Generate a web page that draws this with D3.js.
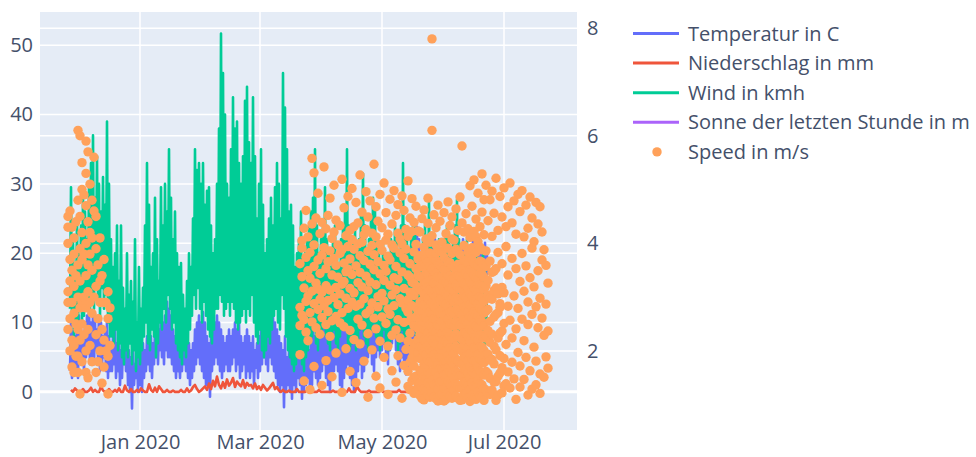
<!DOCTYPE html>
<html>
<head>
<meta charset="utf-8">
<script src="https://cdn.jsdelivr.net/npm/d3@7"></script>
<style>
  html, body { margin: 0; padding: 0; background: #ffffff; }
  svg { display: block; font-family: "Open Sans", Verdana, Arial, sans-serif; }
</style>
</head>
<body>
<svg id="chart" width="976" height="457"></svg>
<script>
// ---- Weather station readings, one entry per day starting 2019-11-27 ----
const firstDay = new Date(2019, 10, 27);

// Temperature in C: daily minimum and maximum
const tempMin = [
  3, 2, 4, 3, 2, 5, 4, 3, 5, 6, 4,
  5, 4, 6, 5, 3, 4, 5, 3, 2, 3,
  3, 4, 2, 3, 1, 2, 4, 3, 1, 0, -2.4, 1, 2, 0,
  1, 0, 2, 3, 4, 3, 2, 4, 5, 4, 6, 5, 4, 6, 5,
  5, 4, 3, 2, 3, 2, 3, 4, 3, 2, 1, 2, 3, 4, 5,
  4, 3, 2, 1, 1, -0.7, 3, 4, 5, 4, 3, 2, 3, 4, 3,
  3, 4, 5, 3, 4, 2, 3, 4, 2, 3, 2, 3, 1, 3.5, 2,
  3, 4, 5, 4, 3, 5, 4, 3, 2, 1, 0, 1, -2.2, 0, 1,
  0, -1, 1, 0, 2, 1, -1, 0, 1, 2, 0, 1, 3, 2, 1,
  2, 3, 4, 2, 1, 0, 2, 3, 4, 3, 1, 0, 2, 3, 4, 2,
  1, 0, 2, 3, 4, 2, 3, 4, 5, 6, 4, 3, 5, 6, 5,
  6, 7, 5, 4, 6, 7, 8, 6, 4, 3, 5, 4, 2.5, 3, 5,
  6, 7, 8, 9, 10, 8, 7, 9, 10, 11, 9, 8, 10, 11, 9,
  10, 11, 12, 10, 11, 12, 13, 11, 10, 12, 13, 11, 12, 13, 11, 12, 13, 14, 12, 11, 13, 12, 12
];
const tempMax = [
  10, 9, 8, 10, 11, 9, 8, 10, 11, 12, 10,
  11, 10, 9, 11, 10, 8, 9, 10, 8, 7,
  8, 9, 7, 8, 6, 7, 9, 8, 6, 5, 6, 4, 7, 5,
  6, 7, 6, 8, 9, 8, 7, 9, 10, 9, 11, 10, 11, 13, 12,
  11, 9, 8, 7, 6, 7, 8, 9, 8, 7, 6, 7, 9, 10, 11,
  10, 11.5, 10, 8, 7, 8, 9, 10, 11, 10, 9, 8, 7, 8, 9,
  8, 9, 10, 9, 10, 8, 7, 8, 9, 8, 7, 8, 6, 7, 8,
  9, 11, 12, 10, 11, 12.8, 11, 10, 9, 8, 7, 6, 8, 5, 6,
  7, 8, 6, 9, 8, 10, 9, 8, 7, 6, 9, 10, 8, 7, 9,
  11, 12, 13, 11, 10, 9, 12, 14, 13, 12, 11, 10, 12, 13, 15, 14,
  13, 12, 14, 15, 16, 14, 13, 15, 16, 17, 15, 14, 16, 18, 17,
  18, 19, 17, 16, 18, 19, 20, 18, 17, 19, 20, 18, 17, 19, 20,
  21, 22, 23.8, 22, 20, 19, 21, 22, 20, 19, 21, 22, 20, 18, 19,
  20, 21, 22, 20, 19, 21, 22, 23, 21, 20, 22, 21, 20, 19, 21, 22, 20, 19, 21, 20, 19, 21.5, 20
];

// Precipitation in mm: daily value
const rain = [
  0.3, 0, 0.5, 0.2, 0, 0, 0.4, 0, 0, 0.2, 0.6, 0, 0.3, 0, 0, 0.8, 0.2, 0, 0, 0.4, 0, 0, 0.3, 0, 0.5, 0, 0, 0.9, 0.2, 0, 0.4, 0, 0, 0.3, 0,
  0.5, 0.2, 0, 0, 1.1, 0.3, 0, 0.6, 0, 0.8, 0.4, 0, 0, 0.3, 0, 0, 0.2, 0, 0, 0, 0.3, 0, 0, 0.5, 0, 0.2, 0.7, 1.0, 0.4, 0, 0.2, 0.5, 0.8, 0.3, 1.2,
  0.4, 1.6, 0.8, 2.2, 1.0, 0.5, 1.4, 0.6, 1.8, 0.9, 1.3, 2.0, 0.7, 1.5, 1.1, 0.8, 1.7, 0.6, 1.3, 0.9, 1.0, 0.5, 1.2, 0.4, 0.8, 0.3, 1.0, 0.6, 0.2, 0.5, 0.9, 1.3, 0.4, 0.7, 0.2,
  0, 0.3, 0, 0, 0.2, 0, 0, 0, 0.4, 0, 0, 0, 0, 0.2, 0, 0, 0, 0, 0, 0.3, 0, 0, 0, 0, 0, 0, 0.2, 0, 0, 0, 0, 0, 0, 0, 0.5,
  0, 0, 0, 0.8, 0.3, 0, 0, 0, 0, 0.2, 0, 0, 0, 0, 0, 0.4, 0, 0, 0, 0, 0, 0, 0, 0, 0.3, 0, 0, 0, 0, 0, 0, 0.6, 0, 0, 0,
  0, 0, 0, 0, 0, 0, 0.2, 0, 0, 0, 0, 0, 0, 0, 0, 0, 0, 0, 0, 0.9, 0.3, 0, 0, 0, 0, 0, 0, 0, 0, 0, 0, 0, 0, 0
];

// Wind in km/h: daily minimum and maximum
const windMin = [
  12, 10, 8, 10, 9, 12, 10, 11, 14, 13,
  12, 14, 12, 16, 13, 11, 15, 12, 14, 10,
  8, 8, 7, 9, 6, 7, 5, 4, 6, 5,
  7, 4, 6, 3, 5, 4, 6, 8, 10, 7,
  6, 9, 8, 5, 7, 10, 9, 12, 10, 14,
  12, 9, 10, 7, 6, 5, 4, 6, 5, 7,
  9, 11, 14, 12, 15, 12, 10, 13, 11, 9,
  8, 7, 9, 12, 12, 14, 13, 11, 12, 13,
  11, 13, 12, 10, 9, 10, 11, 12, 10, 12,
  11, 14, 10, 8, 7, 9, 6, 5, 6, 8,
  7, 9, 11, 12, 10, 9, 14, 12, 8, 6,
  5, 4, 3, 4, 6, 5, 4, 3, 5, 6,
  7, 8, 9, 7, 6, 8, 9, 10, 8, 7,
  6, 8, 9, 7, 6, 8, 9, 10, 9, 7,
  6, 7, 8, 6, 7, 9, 10, 8, 7, 6,
  8, 9, 10, 8, 7, 6, 8, 9, 7, 6,
  7, 8, 9, 8, 6, 7, 9, 8, 7, 6,
  8, 9, 10, 8, 7, 6, 8, 9, 7, 8,
  9, 8, 7, 6, 8, 9, 7, 6, 8, 9,
  7, 6, 8, 9, 7, 6, 8, 7, 6, 8,
  7, 6, 8, 7, 6, 7, 8, 6, 7
];
const windMax = [
  29.5, 22, 18, 25, 20, 24, 28, 26, 22, 30,
  33, 37, 28, 34, 30, 26, 31, 27, 39, 30,
  22, 18, 20, 24, 16, 24, 15, 12, 20, 14,
  16, 13, 22, 10, 18, 12, 15, 24, 33, 27,
  18, 20, 28, 22, 16, 29.5, 24, 30, 26, 35,
  28, 22, 26, 20, 18, 18.6, 14, 12, 16, 20,
  18, 25, 35, 32, 33, 30, 33, 27, 29, 29.5,
  24, 20, 22, 30, 38, 51.7, 46, 40, 30, 28,
  35, 42.5, 38, 39, 33, 30, 34, 42, 44, 36,
  33, 42.5, 34, 25, 30, 35, 27, 20, 22, 25,
  28, 24, 29.5, 33, 30, 25, 46, 41, 35, 26,
  27, 24, 18, 20, 22, 26, 18, 20, 22, 24,
  26, 28, 35, 24, 20, 22, 24, 29.5, 22, 20,
  18, 22, 24, 20, 18, 22, 24, 26, 35, 24,
  20, 22, 24, 20, 22, 26, 31.5, 24, 20, 22,
  25, 28, 26, 22, 20, 18, 22, 20, 18, 20,
  22, 20, 24, 22, 20, 24, 33, 24, 22, 20,
  22, 24, 23.8, 20, 18, 20, 22, 24, 22, 27.7,
  22, 20, 18, 20, 22, 20, 18, 22, 24, 22,
  20, 22, 24, 27.7, 22, 20, 18, 20, 22, 20,
  18, 16, 18, 20, 16, 18, 20, 18, 16
];

// Sunshine of the last hour in min: no readings in this period
const sunMinutes = [];

// Speed in m/s: [days after 2020-01-01, readings of that day]
const speedRef = new Date(2020, 0, 1);
const speedByDay = [
  [-36, [4.5, 4.3, 4.0, 3.1, 2.9, 2.4]],
  [-35, [4.6, 3.7, 3.3, 2.6, 2.0]],
  [-34, [4.3, 3.5, 2.9, 2.2, 1.7]],
  [-33, [4.1, 3.8, 3.2, 2.7, 2.1, 1.6]],
  [-32, [4.4, 3.4, 2.5, 1.9]],
  [-31, [6.1, 4.8, 3.6, 3.0, 2.4, 1.9, 1.6]],
  [-30, [6.0, 4.5, 3.9, 3.3, 2.8, 2.2, 1.2]],
  [-29, [5.5, 5.0, 4.2, 3.7, 2.9, 2.5, 1.8]],
  [-28, [4.9, 3.8, 3.0, 2.3]],
  [-27, [5.9, 5.3, 4.7, 4.0, 3.4, 2.8, 2.0, 1.6]],
  [-26, [5.7, 4.4, 3.6, 3.1, 2.4, 1.5]],
  [-25, [5.1, 4.2, 3.8, 2.9, 2.1]],
  [-24, [4.8, 4.1, 3.5, 2.7, 1.8]],
  [-23, [5.6, 4.6, 3.0]],
  [-22, [4.5, 3.9, 3.2, 2.3, 1.6]],
  [-21, [3.6, 2.6, 1.8]],
  [-20, [4.1, 3.3, 2.9, 2.0]],
  [-19, [3.4, 2.4, 1.4]],
  [-18, [3.7, 2.9, 2.2, 1.7]],
  [-17, [2.9, 2.0]],
  [-16, [3.1, 2.6, 1.9, 1.2]],
  [-15, [2.8, 2.1]],
  [80, [3.62, 2.81, 2.47, 1.93]],
  [81, [4.05, 3.38, 2.66, 3.91]],
  [82, [3.17, 2.58, 1.44, 4.28]],
  [83, [4.61, 3.74, 2.92, 2.35]],
  [84, [3.49, 3.02, 2.19, 4.12]],
  [85, [3.83, 2.71, 1.28, 3.35]],
  [86, [5.58, 4.36, 3.11, 2.54]],
  [87, [5.31, 3.57, 2.88, 1.71, 3.97]],
  [88, [4.47, 3.26, 2.43]],
  [89, [4.93, 3.69, 2.77, 3.15]],
  [90, [4.18, 3.44, 2.31, 2.96]],
  [91, [3.78, 3.09, 2.62, 1.36, 4.39]],
  [92, [5.42, 3.92, 2.84]],
  [93, [4.27, 3.53, 2.49, 1.82, 3.21]],
  [94, [3.66, 2.94, 4.52, 2.73]],
  [95, [4.84, 3.86, 3.13, 2.27]],
  [96, [3.41, 2.56, 1.52, 4.09]],
  [97, [5.08, 4.21, 3.72, 2.99]],
  [98, [3.59, 3.18, 2.64, 1.96, 4.43]],
  [99, [3.97, 3.37, 2.86]],
  [100, [4.33, 3.81, 2.52, 3.06]],
  [101, [5.19, 3.24, 2.71, 1.23, 3.88]],
  [102, [4.66, 3.63, 3.29, 2.45]],
  [103, [4.14, 3.47, 2.98, 2.04]],
  [104, [4.87, 3.94, 3.52, 2.79]],
  [105, [3.71, 3.16, 2.38, 1.62, 4.24]],
  [106, [5.02, 4.07, 3.42, 2.91]],
  [107, [3.89, 3.08, 2.21, 4.31]],
  [108, [4.76, 3.58, 2.83, 1.41]],
  [109, [4.38, 3.99, 3.27, 2.59]],
  [110, [5.27, 3.77, 3.46, 2.87, 2.13]],
  [111, [4.58, 3.19, 4.02, 2.48]],
  [112, [3.68, 2.97, 1.81, 4.16]],
  [113, [4.96, 4.26, 3.39, 2.69]],
  [114, [3.85, 3.12, 2.32, 1.14, 4.49]],
  [115, [4.79, 3.61, 3.28, 2.76]],
  [116, [4.19, 3.96, 2.89, 2.02]],
  [117, [5.47, 3.79, 3.51, 2.61]],
  [118, [4.68, 3.23, 2.41, 1.53, 4.12]],
  [119, [4.41, 3.66, 3.01, 2.82]],
  [120, [4.91, 3.43, 2.18, 1.31, 3.98]],
  [121, [4.29, 3.87, 3.07, 2.63]],
  [122, [5.12, 3.59, 3.31, 2.93, 1.88]],
  [123, [4.57, 4.06, 3.48, 2.51]],
  [124, [4.17, 3.76, 2.78, 2.09, 1.19]],
  [125, [4.82, 3.69, 3.22, 2.68]],
  [126, [4.36, 3.97, 3.04, 2.29, 1.63]],
  [127, [4.98, 3.91, 3.36, 2.84]],
  [128, [4.52, 3.57, 3.14, 2.39, 1.42]],
  [129, [4.72, 4.19, 3.33, 2.58, 1.91]],
  [130, [4.08, 3.82, 2.97, 2.24]],
  [131, [4.88, 3.99, 3.47, 2.89, 1.12]],
  [132, [4.61, 3.72, 3.16, 2.53, 1.73]],
  [133, [4.26, 3.89, 2.79, 2.03]],
  [134, [5.16, 4.13, 3.41, 2.72, 1.34, 1.62, 2.18, 2.95]],
  [135, [4.47, 3.62, 3.09, 2.33, 1.79, 1.28, 2.56, 3.37]],
  [136, [4.83, 4.22, 3.28, 2.61, 1.45, 2.02, 2.84, 1.87]],
  [137, [4.39, 3.84, 3.03, 2.14, 1.51, 1.72, 2.47, 3.26, 1.21]],
  [138, [4.69, 3.98, 3.53, 2.81, 1.24, 1.53, 2.12, 2.63, 3.12]],
  [139, [4.23, 3.71, 3.19, 2.42, 1.87, 1.34, 1.96, 2.74, 3.41, 2.21]],
  [140, [1.17, 1.64, 2.08, 2.53, 2.91, 3.38, 3.77, 4.21, 1.40, 1.86, 2.31, 2.72, 3.15, 3.57]],
  [141, [1.33, 1.86, 2.27, 2.74, 3.12, 3.59, 4.46, 1.11, 1.59, 2.05, 2.50, 2.93, 3.36]],
  [142, [1.09, 1.52, 1.98, 2.41, 2.86, 3.24, 3.93, 4.62, 1.30, 1.75, 2.20, 2.63, 3.05, 3.55, 3.78]],
  [143, [1.26, 1.71, 2.16, 2.63, 3.05, 3.47, 4.08, 1.48, 1.93, 2.39, 2.84, 3.26, 3.71]],
  [144, [1.41, 1.83, 2.34, 2.79, 3.18, 3.66, 4.37, 4.84, 1.18, 1.61, 2.10, 2.56, 2.98, 3.42]],
  [145, [1.14, 1.58, 2.02, 2.49, 2.97, 3.31, 3.82, 1.36, 1.80, 2.25, 2.73, 3.14, 3.58, 4.02]],
  [146, [1.22, 1.77, 2.21, 2.68, 3.09, 3.52, 4.14, 6.1, 7.8, 1.45, 1.99, 2.44, 2.90, 3.31]],
  [147, [1.36, 1.93, 2.38, 2.83, 3.26, 3.71, 4.53, 1.14, 1.65, 2.15, 2.60, 3.04, 3.48]],
  [148, [1.11, 1.61, 2.12, 2.57, 3.01, 3.44, 3.97, 4.29, 1.34, 1.85, 2.35, 2.79, 3.22, 3.69, 3.82]],
  [149, [1.29, 1.74, 2.25, 2.71, 3.14, 3.62, 4.71, 1.07, 1.51, 1.99, 2.48, 2.92, 3.38]],
  [150, [1.18, 1.67, 2.05, 2.47, 2.94, 3.36, 3.86, 4.41, 1.42, 1.89, 2.26, 2.70, 3.15, 3.60]],
  [151, [1.44, 1.89, 2.31, 2.77, 3.21, 3.55, 4.02, 1.20, 1.66, 2.09, 2.54, 2.99, 3.38, 3.84]],
  [152, [1.07, 1.55, 1.99, 2.44, 2.89, 3.29, 3.74, 4.57, 1.31, 1.77, 2.21, 2.66, 3.09, 3.51]],
  [153, [1.32, 1.79, 2.19, 2.66, 3.07, 3.49, 4.18, 1.10, 1.56, 1.99, 2.43, 2.87, 3.28, 3.91]],
  [154, [1.21, 1.69, 2.13, 2.59, 3.03, 3.41, 3.91, 4.77, 1.44, 1.91, 2.36, 2.81, 3.22, 3.66]],
  [155, [1.38, 1.84, 2.28, 2.72, 3.16, 3.64, 4.33, 1.16, 1.61, 2.06, 2.50, 2.94, 3.40]],
  [156, [1.12, 1.57, 2.01, 2.52, 2.96, 3.33, 3.81, 4.49, 1.34, 1.79, 2.23, 2.74, 3.15, 3.57, 4.08]],
  [157, [1.27, 1.73, 2.23, 2.69, 3.11, 3.57, 4.06, 1.50, 1.95, 2.46, 2.91, 3.34]],
  [158, [1.16, 1.62, 2.09, 2.55, 2.99, 3.46, 3.89, 4.64, 1.39, 1.85, 2.32, 2.77, 3.22]],
  [159, [1.35, 1.81, 2.26, 2.76, 3.19, 3.61, 4.24, 1.12, 1.58, 2.04, 2.53, 2.97, 3.40, 3.85]],
  [160, [1.08, 1.54, 2.03, 2.48, 2.92, 3.37, 3.79, 4.86, 1.31, 1.77, 2.25, 2.70, 3.15, 3.58]],
  [161, [1.31, 1.76, 2.22, 2.67, 3.13, 3.53, 4.38, 5.81, 1.09, 1.53, 2.00, 2.45, 2.90, 3.33]],
  [162, [1.19, 1.66, 2.11, 2.58, 3.04, 3.42, 3.96, 1.42, 1.88, 2.34, 2.81, 3.24, 3.69, 4.21]],
  [163, [1.42, 1.87, 2.33, 2.78, 3.22, 3.68, 4.55, 1.20, 1.64, 2.10, 2.55, 3.00, 3.45]],
  [164, [1.13, 1.59, 2.06, 2.51, 2.95, 3.39, 3.84, 4.27, 1.36, 1.82, 2.28, 2.73, 3.17, 3.61]],
  [165, [1.28, 1.72, 2.18, 2.64, 3.08, 3.51, 4.11, 5.07, 1.06, 1.50, 1.95, 2.41, 2.86, 3.30, 3.81]],
  [166, [1.17, 1.63, 2.14, 2.61, 3.02, 3.47, 3.92, 4.69, 1.40, 1.85, 2.37, 2.82, 3.24, 3.70]],
  [167, [1.34, 1.82, 2.29, 2.73, 3.17, 3.63, 4.22, 5.18, 1.12, 1.58, 2.06, 2.51, 2.95, 3.41]],
  [168, [1.10, 1.56, 2.04, 2.46, 2.93, 3.35, 3.83, 4.45, 1.32, 1.79, 2.26, 2.69, 3.14, 3.59, 4.12]],
  [169, [1.24, 1.70, 2.20, 2.65, 3.10, 3.58, 4.03, 4.93, 1.46, 1.93, 2.43, 2.88, 3.33]],
  [170, [1.39, 1.85, 2.30, 2.80, 3.23, 3.67, 4.31, 1.16, 1.62, 2.08, 2.57, 3.01, 3.45, 3.93]],
  [171, [1.15, 1.60, 2.07, 2.54, 2.98, 3.43, 3.88, 4.58, 5.29, 1.37, 1.83, 2.30, 2.76, 3.20, 3.65]],
  [172, [1.30, 1.78, 2.24, 2.70, 3.15, 3.59, 4.16, 4.81, 1.08, 1.55, 2.01, 2.47, 2.92, 3.37]],
  [173, [5.08, 3.86, 2.74, 1.93, 1.27, 1.62, 2.28, 3.21, 3.57]],
  [174, [4.42, 3.31, 2.38, 1.58, 1.21, 1.94, 2.77, 3.04]],
  [175, [4.81, 3.67, 2.16, 1.19, 1.49, 2.55, 2.98, 1.83]],
  [176, [4.97, 4.13, 2.96, 1.84, 1.27, 2.31, 3.46]],
  [177, [4.56, 3.48, 2.63, 1.42, 1.76, 2.09, 3.12]],
  [178, [5.21, 3.17, 2.02, 1.08, 1.43, 2.68, 3.53]],
  [179, [4.24, 3.83, 2.71, 1.53, 1.18, 2.24, 3.06]],
  [180, [4.87, 2.88, 2.33, 1.59, 1.91, 2.81]],
  [181, [4.49, 3.62, 1.69, 1.22, 2.37, 3.18]],
  [182, [5.03, 3.08, 2.51, 1.35, 1.86]],
  [183, [4.31, 3.94, 2.12, 1.39]],
  [184, [4.68, 3.41, 2.83, 1.61]],
  [185, [5.12, 2.57, 1.31]],
  [186, [4.38, 3.72, 2.24, 1.79]],
  [187, [4.79, 3.02, 1.48]],
  [188, [4.17, 3.53, 2.41, 1.10]],
  [189, [4.91, 2.79, 1.97]],
  [190, [4.59, 3.29, 1.72, 1.33]],
  [191, [4.98, 3.81, 2.59]],
  [192, [4.12, 3.11, 2.19, 1.47]],
  [193, [4.71, 3.58, 1.88]],
  [194, [4.28, 2.91, 2.49, 1.18]],
  [195, [4.86, 3.36, 1.63]],
  [196, [4.47, 3.91, 2.68, 1.29]],
  [197, [4.03, 3.19, 2.07]],
  [198, [4.76, 2.82, 1.81, 1.37]],
  [199, [4.36, 3.49, 2.43]],
  [200, [4.68, 2.98, 1.57, 1.21]],
  [201, [4.21, 3.69, 2.61]],
  [202, [3.88, 2.29, 1.51]],
  [203, [3.59, 2.87, 1.89]],
  [204, [3.26, 2.37, 1.68]]
];

// Axis ticks
const leftTicks = [0, 10, 20, 30, 40, 50];
const rightTicks = [2, 4, 6, 8];
const xTickDates = [new Date(2020, 0, 1), new Date(2020, 2, 1), new Date(2020, 4, 1), new Date(2020, 6, 1)];

// Legend entries
const seriesNames = ["Temperatur in C", "Niederschlag in mm", "Wind in kmh", "Sonne der letzten Stunde in m", "Speed in m/s"];
const seriesColors = ["#636efa", "#EF553B", "#00cc96", "#ab63fa", "#FFA15A"];

// ---- Layout ----
const plot = { left: 40, right: 577, top: 12, bottom: 430 };
const fontSize = "20px";
const textColor = "#44506a";
const svg = d3.select("#chart");

const x = d3.scaleTime()
  .domain([new Date(2019, 10, 12), new Date(2020, 7, 6, 12)])
  .range([plot.left, plot.right]);
const yLeft = d3.scaleLinear().domain([-5.5, 54.8]).range([plot.bottom, plot.top]);
const yRight = d3.scaleLinear().domain([0.53, 8.3]).range([plot.bottom, plot.top]);

svg.append("defs").append("clipPath").attr("id", "plotClip")
  .append("rect")
  .attr("x", plot.left).attr("y", plot.top)
  .attr("width", plot.right - plot.left).attr("height", plot.bottom - plot.top);

svg.append("rect")
  .attr("x", plot.left).attr("y", plot.top)
  .attr("width", plot.right - plot.left).attr("height", plot.bottom - plot.top)
  .attr("fill", "#E5ECF6");

// grid
const grid = svg.append("g").attr("stroke", "#ffffff").attr("stroke-width", 1.5);
grid.selectAll(".gx").data(xTickDates).join("line")
  .attr("x1", d => x(d)).attr("x2", d => x(d))
  .attr("y1", plot.top).attr("y2", plot.bottom);
grid.selectAll(".gl").data(leftTicks).join("line")
  .attr("x1", plot.left).attr("x2", plot.right)
  .attr("y1", d => yLeft(d)).attr("y2", d => yLeft(d))
  .attr("stroke-width", d => d === 0 ? 3 : 1.5);
grid.selectAll(".gr").data(rightTicks).join("line")
  .attr("x1", plot.left).attr("x2", plot.right)
  .attr("y1", d => yRight(d)).attr("y2", d => yRight(d));

// daily min/max become two readings per day: min at midnight, max at noon
function minMaxSeries(mins, maxs) {
  const pts = [];
  mins.forEach((lo, i) => {
    const day = d3.timeDay.offset(firstDay, i);
    pts.push([day, lo]);
    pts.push([d3.timeHour.offset(day, 12), maxs[i]]);
  });
  return pts;
}

const lineLeft = d3.line().x(d => x(d[0])).y(d => yLeft(d[1]));
const lines = svg.append("g").attr("clip-path", "url(#plotClip)")
  .attr("fill", "none").attr("stroke-width", 2.6).attr("stroke-linejoin", "round");

lines.append("path")
  .attr("d", lineLeft(minMaxSeries(tempMin, tempMax)))
  .attr("stroke", seriesColors[0]);

lines.append("path")
  .attr("d", lineLeft(rain.map((v, i) => [d3.timeHour.offset(d3.timeDay.offset(firstDay, i), 12), v])))
  .attr("stroke", seriesColors[1]);

lines.append("path")
  .attr("d", lineLeft(minMaxSeries(windMin, windMax)))
  .attr("stroke", seriesColors[2]);

lines.append("path")
  .attr("d", lineLeft(sunMinutes))
  .attr("stroke", seriesColors[3]);

// speed markers on the secondary axis
const speedPoints = [];
speedByDay.forEach(([d, vals]) => {
  vals.forEach(v => speedPoints.push([d3.timeDay.offset(speedRef, d), v]));
});
svg.append("g").attr("clip-path", "url(#plotClip)")
  .selectAll("circle").data(speedPoints).join("circle")
  .attr("cx", d => x(d[0]))
  .attr("cy", d => yRight(d[1]))
  .attr("r", 4.7)
  .attr("fill", seriesColors[4]);

// axes
function styleAxis(g) {
  g.select(".domain").remove();
  g.selectAll("line").remove();
  g.selectAll("text").attr("fill", textColor).style("font-size", fontSize)
    .style("font-family", '"Open Sans", Verdana, Arial, sans-serif');
}
svg.append("g").attr("transform", `translate(${plot.left},0)`)
  .call(d3.axisLeft(yLeft).tickValues(leftTicks).tickSize(0).tickPadding(7))
  .call(styleAxis);
svg.append("g").attr("transform", `translate(${plot.right},0)`)
  .call(d3.axisRight(yRight).tickValues(rightTicks).tickSize(0).tickPadding(10))
  .call(styleAxis);
svg.append("g").attr("transform", `translate(0,${plot.bottom})`)
  .call(d3.axisBottom(x).tickValues(xTickDates).tickFormat(d3.timeFormat("%b %Y")).tickSize(0).tickPadding(5))
  .call(styleAxis);

// legend
const legend = svg.append("g");
const item = legend.selectAll("g").data(seriesNames).join("g")
  .attr("transform", (d, i) => `translate(633,${33.5 + i * 29.6})`);
item.filter((d, i) => i < 4).append("line")
  .attr("x1", 0).attr("x2", 46).attr("y1", 0).attr("y2", 0)
  .attr("stroke", (d, i) => seriesColors[i]).attr("stroke-width", 3);
item.filter((d, i) => i === 4).append("circle")
  .attr("cx", 24).attr("cy", 0).attr("r", 4.7).attr("fill", seriesColors[4]);
item.append("text")
  .attr("x", 55).attr("y", 0).attr("dy", "0.35em")
  .attr("fill", textColor).style("font-size", fontSize)
  .text(d => d);
</script>
</body>
</html>
